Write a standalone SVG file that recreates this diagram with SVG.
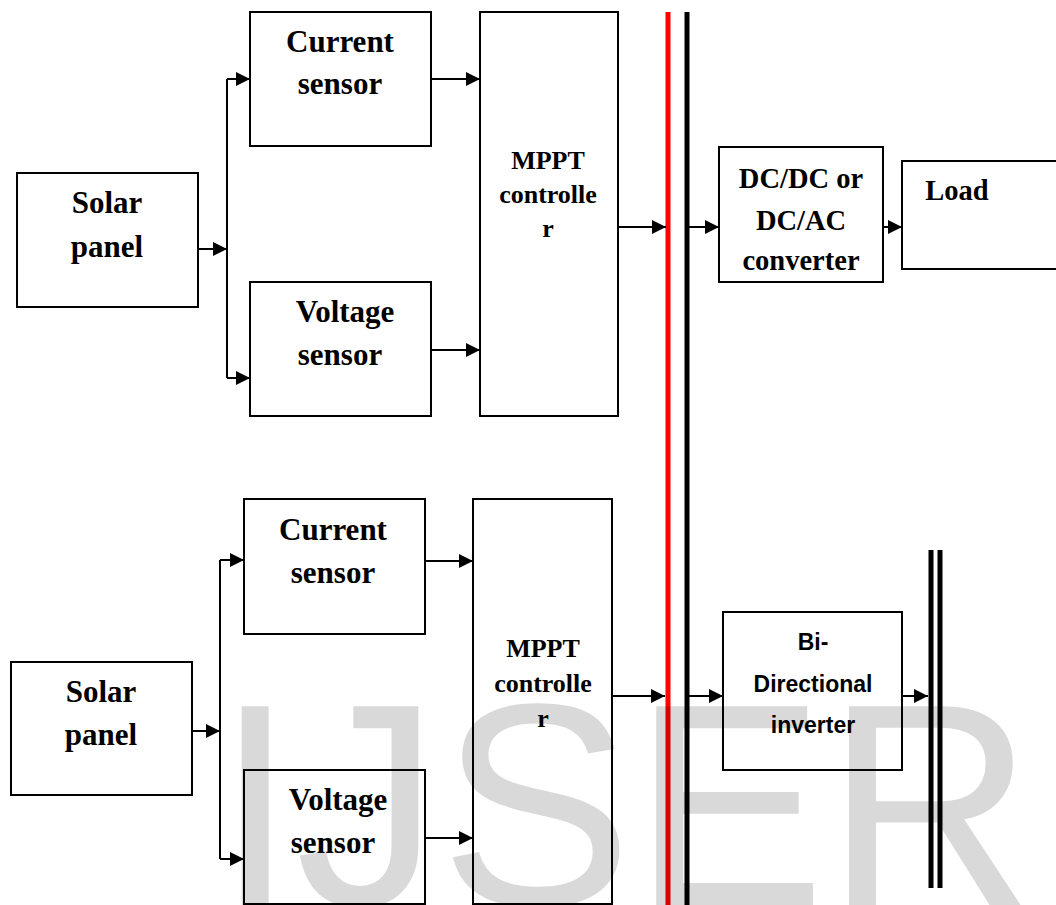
<svg xmlns="http://www.w3.org/2000/svg" width="1056" height="905" viewBox="0 0 1056 905">
  <defs>
    <marker id="arrow" markerUnits="userSpaceOnUse" markerWidth="14" markerHeight="14" refX="14" refY="7" orient="auto">
      <path d="M0,0 L14,7 L0,14 Z" fill="#000"/>
    </marker>
    <style>
      .box { fill: none; stroke: #000; stroke-width: 2; }
      .wire { fill: none; stroke: #000; stroke-width: 2; }
      .flow { fill: none; stroke: #000; stroke-width: 2; marker-end: url(#arrow); }
      .lbl { font-family: "Liberation Serif", "Times New Roman", serif; font-weight: bold; text-anchor: middle; fill: #000; }
      .lg { font-size: 31px; }
      .md { font-size: 26px; }
      .cv { font-size: 28.5px; }
      .sans { font-family: "Liberation Sans", Arial, sans-serif; font-weight: bold; font-size: 23px; text-anchor: middle; fill: #000; }
      .bus { stroke-width: 5; }
      .mark { font-family: "Liberation Sans", Arial, sans-serif; font-size: 289px; fill: #000; fill-opacity: 0.15; }
    </style>
  </defs>

  <rect width="1056" height="905" fill="#fff"/>

  <!-- upper string -->
  <g id="solar1">
    <rect class="box" x="17" y="173" width="181" height="134"/>
    <text class="lbl lg" x="107" y="213">Solar</text>
    <text class="lbl lg" x="107" y="257">panel</text>
  </g>
  <g id="isense1">
    <rect class="box" x="250" y="12" width="181" height="134"/>
    <text class="lbl lg" x="340" y="52">Current</text>
    <text class="lbl lg" x="340" y="94">sensor</text>
  </g>
  <g id="vsense1">
    <rect class="box" x="250" y="282" width="181" height="134"/>
    <text class="lbl lg" x="345" y="322">Voltage</text>
    <text class="lbl lg" x="340" y="365">sensor</text>
  </g>
  <g id="mppt1">
    <rect class="box" x="480" y="12" width="138" height="404"/>
    <text class="lbl md" x="548" y="169">MPPT</text>
    <text class="lbl md" x="548" y="203">controlle</text>
    <text class="lbl md" x="548" y="237">r</text>
  </g>
  <g id="converter">
    <rect class="box" x="719" y="147" width="164" height="135"/>
    <text class="lbl cv" x="801" y="188">DC/DC or</text>
    <text class="lbl cv" x="801" y="230">DC/AC</text>
    <text class="lbl cv" x="801" y="270">converter</text>
  </g>
  <g id="load">
    <rect class="box" x="902" y="161" width="160" height="108"/>
    <text class="lbl cv" x="957" y="200">Load</text>
  </g>

  <!-- lower string -->
  <g id="solar2">
    <rect class="box" x="11" y="662" width="181" height="133"/>
    <text class="lbl lg" x="101" y="702">Solar</text>
    <text class="lbl lg" x="101" y="745">panel</text>
  </g>
  <g id="isense2">
    <rect class="box" x="244" y="499" width="181" height="135"/>
    <text class="lbl lg" x="333" y="540">Current</text>
    <text class="lbl lg" x="333" y="583">sensor</text>
  </g>
  <g id="vsense2">
    <rect class="box" x="244" y="770" width="181" height="134"/>
    <text class="lbl lg" x="338" y="810">Voltage</text>
    <text class="lbl lg" x="333" y="853">sensor</text>
  </g>
  <g id="mppt2">
    <rect class="box" x="473" y="499" width="139" height="405"/>
    <text class="lbl md" x="543" y="657">MPPT</text>
    <text class="lbl md" x="543" y="692">controlle</text>
    <text class="lbl md" x="543" y="727">r</text>
  </g>
  <g id="inverter">
    <rect class="box" x="723" y="612" width="179" height="158"/>
    <text class="sans" x="813" y="650">Bi-</text>
    <text class="sans" x="813" y="692">Directional</text>
    <text class="sans" x="813" y="733">inverter</text>
  </g>

  <!-- DC bus (red / black) and grid bars -->
  <g id="buses">
    <line class="bus" x1="668" y1="12" x2="668" y2="905" stroke="#ff0000"/>
    <line class="bus" x1="687" y1="12" x2="687" y2="905" stroke="#000"/>
    <line class="bus" x1="931" y1="550" x2="931" y2="888" stroke="#000"/>
    <line class="bus" x1="940" y1="550" x2="940" y2="888" stroke="#000"/>
  </g>

  <g id="connectors">
    <!-- upper -->
    <path class="flow" d="M198,249 H227"/>
    <path class="wire" d="M227,79 V378"/>
    <path class="flow" d="M227,79 H250"/>
    <path class="flow" d="M227,378 H250"/>
    <path class="flow" d="M431,79 H480"/>
    <path class="flow" d="M431,350 H480"/>
    <path class="flow" d="M618,227 H666"/>
    <path class="flow" d="M689,227 H719"/>
    <path class="flow" d="M883,227 H902"/>
    <!-- lower -->
    <path class="flow" d="M192,731 H220"/>
    <path class="wire" d="M220,560 V859"/>
    <path class="flow" d="M220,560 H244"/>
    <path class="flow" d="M220,859 H244"/>
    <path class="flow" d="M425,561 H473"/>
    <path class="flow" d="M425,838 H473"/>
    <path class="flow" d="M612,696 H665"/>
    <path class="flow" d="M689,696 H723"/>
    <path class="flow" d="M902,696 H928"/>
  </g>

  <!-- publisher watermark -->
  <text class="mark" x="215" y="905">IJSER</text>
</svg>
